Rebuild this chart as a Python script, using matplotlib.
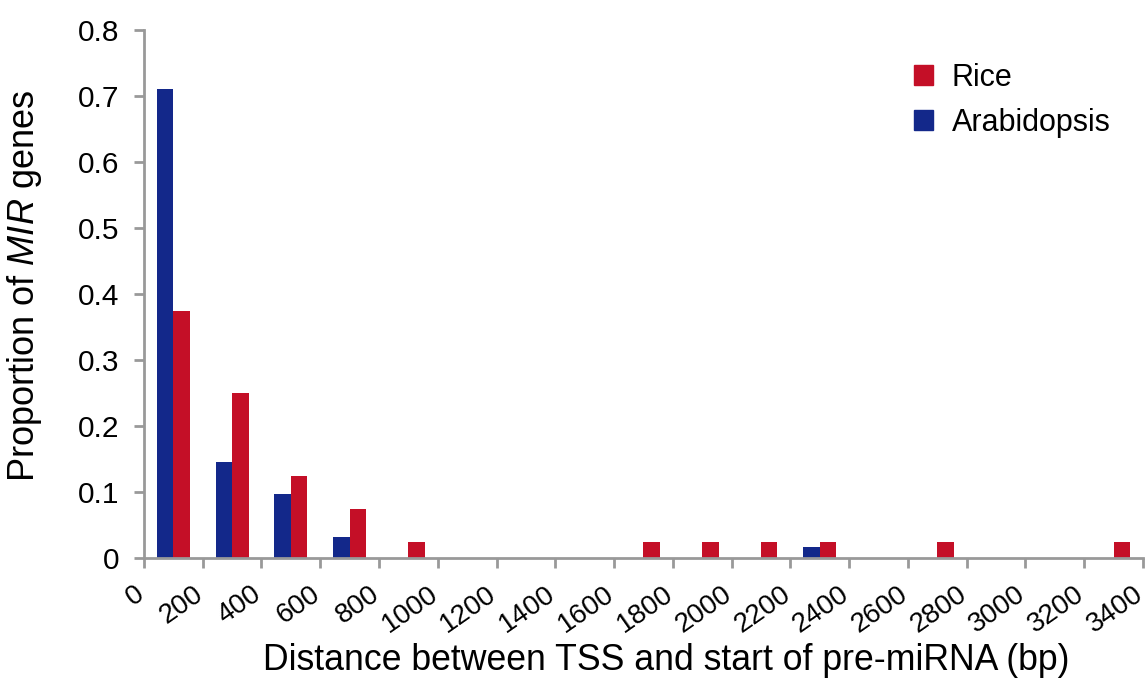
import matplotlib
matplotlib.use("Agg")
import matplotlib.pyplot as plt
import matplotlib.transforms as mtransforms
import numpy as np
from matplotlib.patches import Patch

plt.rcParams['font.family'] = ['Liberation Sans', 'DejaVu Sans']
plt.rcParams['mathtext.fontset'] = 'custom'
plt.rcParams['mathtext.rm'] = 'Liberation Sans'
plt.rcParams['mathtext.it'] = 'Liberation Sans:italic'

bin_starts = list(range(0, 3400, 200))
rice = [0.375, 0.25, 0.125, 0.075, 0.025, 0, 0, 0, 0.025, 0.025, 0.025, 0.025, 0, 0.025, 0, 0, 0.025]
arabidopsis = [0.71, 0.145, 0.097, 0.032, 0, 0, 0, 0, 0, 0, 0, 0.016, 0, 0, 0, 0, 0]
tick_labels = [str(v) for v in range(0, 3600, 200)]

red = '#C40F27'
blue = '#13288A'

fig = plt.figure(figsize=(11.48, 6.79), dpi=100)
ax = fig.add_axes([0.1254, 0.1782, 0.8702, 0.7776])

centers = np.array(bin_starts) + 100
w = 56
ax.bar(centers - w / 2, arabidopsis, width=w, color=blue, label='Arabidopsis')
ax.bar(centers + w / 2, rice, width=w, color=red, label='Rice')

ax.set_xlim(0, 3400)
ax.set_ylim(0, 0.8)

for s in ['top', 'right']:
    ax.spines[s].set_visible(False)
for s in ['left', 'bottom']:
    ax.spines[s].set_color('#999999')
    ax.spines[s].set_linewidth(2)
ax.tick_params(axis='both', color='#999999', width=2, length=7, direction='out')
ax.tick_params(axis='x', pad=8)
ax.tick_params(axis='y', pad=11)

ax.set_xticks(range(0, 3600, 200))
ax.set_xticklabels(tick_labels, rotation=35, ha='right', va='top', rotation_mode='anchor', fontsize=20)
offset = mtransforms.ScaledTranslation(-10 / 100, -2 / 100, fig.dpi_scale_trans)
for lab in ax.get_xticklabels():
    lab.set_transform(lab.get_transform() + offset)
ax.set_yticks(np.arange(0, 0.81, 0.1))
ax.set_yticklabels(['0'] + ['%.1f' % v for v in np.arange(0.1, 0.81, 0.1)], fontsize=21.5)

ax.set_xlabel('Distance between TSS and start of pre-miRNA (bp)', fontsize=25.7, va='baseline')
ax.xaxis.set_label_coords(0.5225, -0.212)
ax.set_ylabel(r'Proportion of $\mathit{MIR}$ genes', fontsize=26, va='bottom')
ax.yaxis.set_label_coords(-0.100, 0.515)

handles = [Patch(color=red, label='Rice'), Patch(color=blue, label='Arabidopsis')]
ax.legend(handles=handles, loc='upper right', bbox_to_anchor=(0.995, 0.99), frameon=False,
          fontsize=22, handlelength=0.62, handleheight=0.62, handletextpad=0.62, labelspacing=0.5)

fig.savefig('out.png', dpi=100)
